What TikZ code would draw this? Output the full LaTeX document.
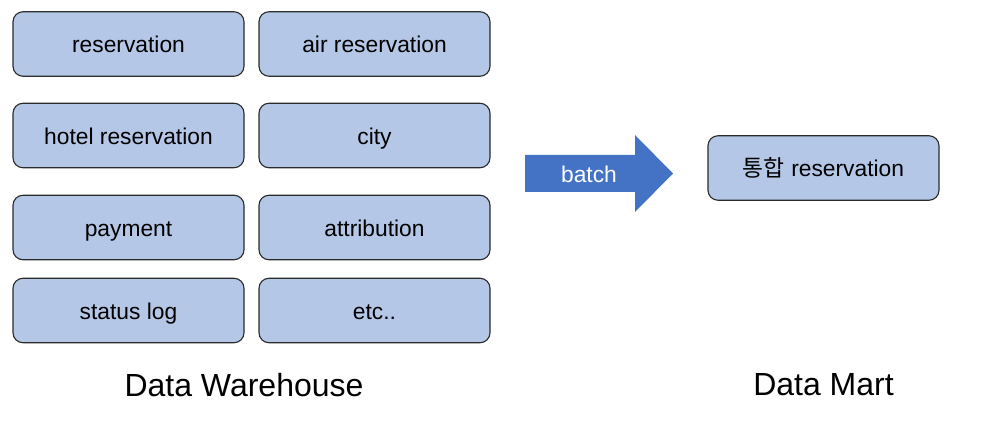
\documentclass[tikz,border=0pt]{standalone}
\usepackage{fontspec}
\setmainfont{Liberation Sans}
\newfontfamily\krfont{Noto Sans CJK KR}
\definecolor{boxfill}{HTML}{B4C7E7}
\definecolor{boxline}{HTML}{2B2B2B}
\definecolor{arrowblue}{HTML}{4472C4}
\begin{document}
\begin{tikzpicture}[x=1pt,y=-1pt,
  tbox/.style={draw=boxline, line width=1.1pt, fill=boxfill, rounded corners=10pt,
    minimum width=231pt, minimum height=64.5pt, inner sep=0pt,
    text height=18pt, text depth=0.3pt,
    font=\fontsize{22.8}{27}\selectfont, text=black},
  bigl/.style={font=\fontsize{32}{38}\selectfont, text=black}]
\useasboundingbox (0,0) rectangle (983,446);
\node[tbox] (res)   at (128.5,44)    {reservation};
\node[tbox] (air)   at (374.5,44)    {air reservation};
\node[tbox] (hotel) at (128.5,135.5) {hotel reservation};
\node[tbox] (city)  at (374.5,135.5) {city};
\node[tbox] (pay)   at (128.5,227.5) {payment};
\node[tbox] (attr)  at (374.5,227.5) {attribution};
\node[tbox] (stat)  at (128.5,310.5) {status log};
\node[tbox] (etc)   at (374.5,310.5) {etc..};
\node[tbox] (mart)  at (823.5,168)   {{\krfont 통합} reservation};
\fill[arrowblue] (525,155) -- (635,155) -- (635,135) -- (673,173.5) -- (635,212) -- (635,192) -- (525,192) -- cycle;
\node[font=\fontsize{22.8}{27}\selectfont, text=white, text height=18pt, text depth=0.3pt, inner sep=0pt] (batch) at (589,174) {batch};
\node[bigl] (dw) at (244,385) {Data Warehouse};
\node[bigl] (dm) at (823.5,385) {Data Mart};
\end{tikzpicture}
\end{document}
